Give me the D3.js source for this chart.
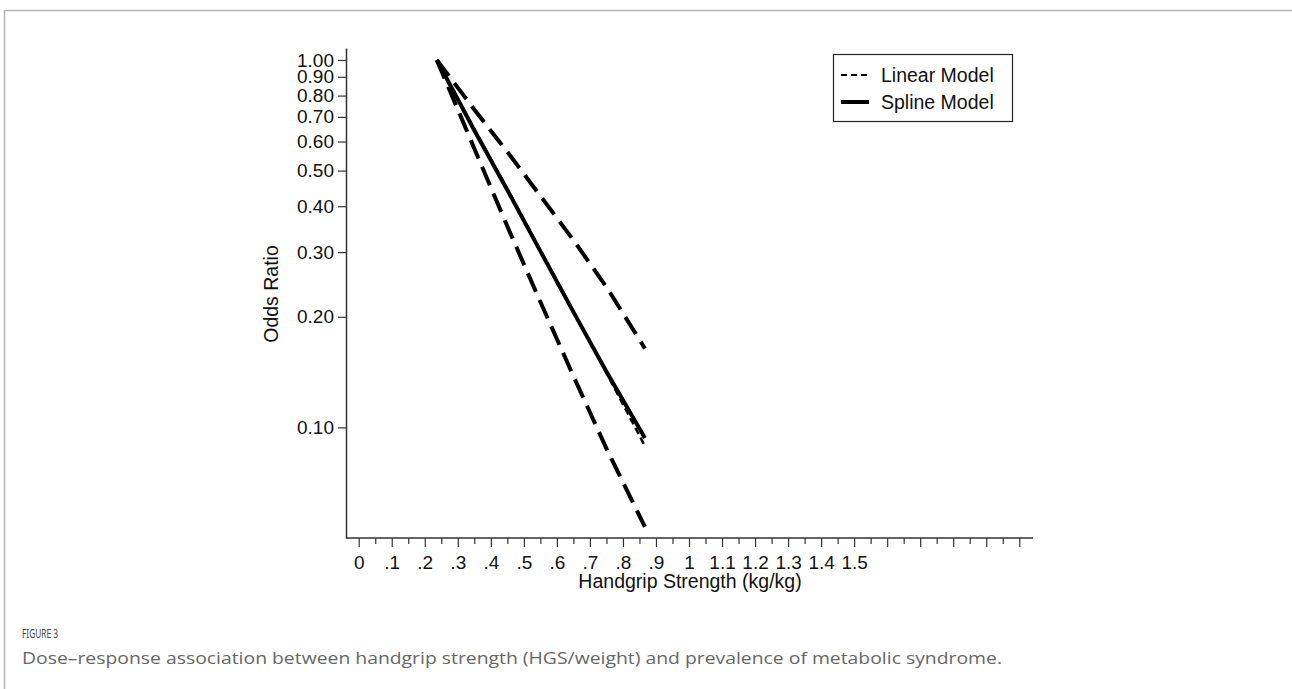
<!DOCTYPE html>
<html>
<head>
<meta charset="utf-8">
<script src="https://cdn.jsdelivr.net/npm/d3@7"></script>
<style>
  body { margin: 0; background: #fff; }
  svg { display: block; }
</style>
</head>
<body>
<svg width="1292" height="689"></svg>
<script>
var svg = d3.select("svg");

// values
var xPoints = [0.235, 0.35, 0.45, 0.55, 0.65, 0.75, 0.865];
var splineOR = [1.0, 0.64, 0.44, 0.30, 0.205, 0.141, 0.0935];
var linearOR = [1.0, 0.645, 0.443, 0.302, 0.206, 0.14, 0.089];
var upperCI = [1.0, 0.73, 0.56, 0.425, 0.322, 0.24, 0.164];
var lowerCI = [1.0, 0.57, 0.35, 0.218, 0.137, 0.087, 0.0536];
var yTicks = [0.1, 0.2, 0.3, 0.4, 0.5, 0.6, 0.7, 0.8, 0.9, 1.0];
var xLabels = [0, .1, .2, .3, .4, .5, .6, .7, .8, .9, 1, 1.1, 1.2, 1.3, 1.4, 1.5];
var legendItems = ["Linear Model", "Spline Model"];

var x = d3.scaleLinear().domain([-0.04, 2.04]).range([346, 1033]);
var y = d3.scaleLog().domain([0.05, 1.078]).range([538, 48]);

// page frame
svg.append("path")
  .attr("d", "M4.5,689V10.5H1292")
  .attr("fill", "none")
  .attr("stroke", "#b4b4b4")
  .attr("stroke-width", 1.5);

var font = "'Liberation Sans', Arial, sans-serif";
var fs = 19;

// y axis
var yAxis = svg.append("g")
  .attr("transform", "translate(346,0)")
  .call(d3.axisLeft(y).tickValues(yTicks).tickFormat(d3.format(".2f")).tickSize(8).tickSizeOuter(0));
yAxis.select(".domain").attr("stroke", "#333").attr("stroke-width", 1.5);
yAxis.selectAll(".tick line").attr("stroke", "#333").attr("stroke-width", 1.2);
yAxis.selectAll("text").attr("font-family", font).attr("font-size", fs).attr("fill", "#111").attr("x", -12);

// x axis: ticks every .05 to 2, labels 0..1.5
var xt = d3.range(0, 41).map(function(i) { return i / 20; });
var xAxis = svg.append("g").attr("transform", "translate(0,538)");
xAxis.append("line")
  .attr("x1", 346).attr("x2", 1033)
  .attr("stroke", "#333").attr("stroke-width", 1.5);
xAxis.selectAll(".tk").data(xt).enter().append("line")
  .attr("x1", d => x(d)).attr("x2", d => x(d))
  .attr("y1", 0).attr("y2", (d, i) => i % 2 == 0 ? 9 : 6)
  .attr("stroke", "#333").attr("stroke-width", 1.2);
xAxis.selectAll(".lbl").data(xLabels).enter().append("text")
  .attr("x", d => x(d)).attr("y", 31)
  .attr("text-anchor", "middle")
  .attr("font-family", font).attr("font-size", fs).attr("fill", "#111")
  .text(d => d == 0 || d >= 1 ? String(d) : String(d).replace("0.", "."));

// axis titles
svg.append("text")
  .attr("x", 690).attr("y", 588)
  .attr("text-anchor", "middle")
  .attr("font-family", font).attr("font-size", fs + 0.5).attr("fill", "#111")
  .text("Handgrip Strength (kg/kg)");
svg.append("text")
  .attr("transform", "translate(278,294) rotate(-90)")
  .attr("text-anchor", "middle")
  .attr("font-family", font).attr("font-size", fs + 0.5).attr("fill", "#111")
  .text("Odds Ratio");

// lines
var line = d3.line()
  .x(d => x(d[0]))
  .y(d => y(d[1]));

function pts(vals) { return xPoints.map((v, i) => [v, vals[i]]); }

svg.append("path").datum(pts(linearOR))
  .attr("d", line).attr("fill", "none").attr("stroke", "#000")
  .attr("stroke-width", 2.5).attr("stroke-dasharray", "7,4");
svg.append("path").datum(pts(splineOR))
  .attr("d", line).attr("fill", "none").attr("stroke", "#000")
  .attr("stroke-width", 4);
[upperCI, lowerCI].forEach(function(ci) {
  svg.append("path").datum(pts(ci))
    .attr("d", line).attr("fill", "none").attr("stroke", "#000")
    .attr("stroke-width", 4).attr("stroke-dasharray", "20,9");
});

// legend
var lg = svg.append("g");
lg.append("rect")
  .attr("x", 833.5).attr("y", 54.5).attr("width", 179).attr("height", 67)
  .attr("fill", "#fff").attr("stroke", "#222").attr("stroke-width", 1.2);
lg.selectAll(".ll").data(legendItems).enter().append("line")
  .attr("x1", 841).attr("x2", 869)
  .attr("y1", (d, i) => 75 + i * 27).attr("y2", (d, i) => 75 + i * 27)
  .attr("stroke", "#000")
  .attr("stroke-width", (d, i) => i == 0 ? 2 : 4)
  .attr("stroke-dasharray", (d, i) => i == 0 ? "6,4" : null);
lg.selectAll(".lt").data(legendItems).enter().append("text")
  .attr("x", 881).attr("y", (d, i) => 82 + i * 27)
  .attr("font-family", font).attr("font-size", fs + 0.5).attr("fill", "#111")
  .text(d => d);

// caption
svg.append("text")
  .attr("x", 22).attr("y", 638)
  .attr("font-family", "'Noto Sans', sans-serif").attr("font-size", 13)
  .attr("fill", "#444")
  .attr("textLength", 36).attr("lengthAdjust", "spacingAndGlyphs")
  .text("FIGURE 3");
svg.append("text")
  .attr("x", 22).attr("y", 664)
  .attr("font-family", "'Open Sans', 'Noto Sans', sans-serif").attr("font-size", 17)
  .attr("fill", "#666")
  .attr("textLength", 980).attr("lengthAdjust", "spacingAndGlyphs")
  .text("Dose\u2013response association between handgrip strength (HGS/weight) and prevalence of metabolic syndrome.");
</script>
</body>
</html>
